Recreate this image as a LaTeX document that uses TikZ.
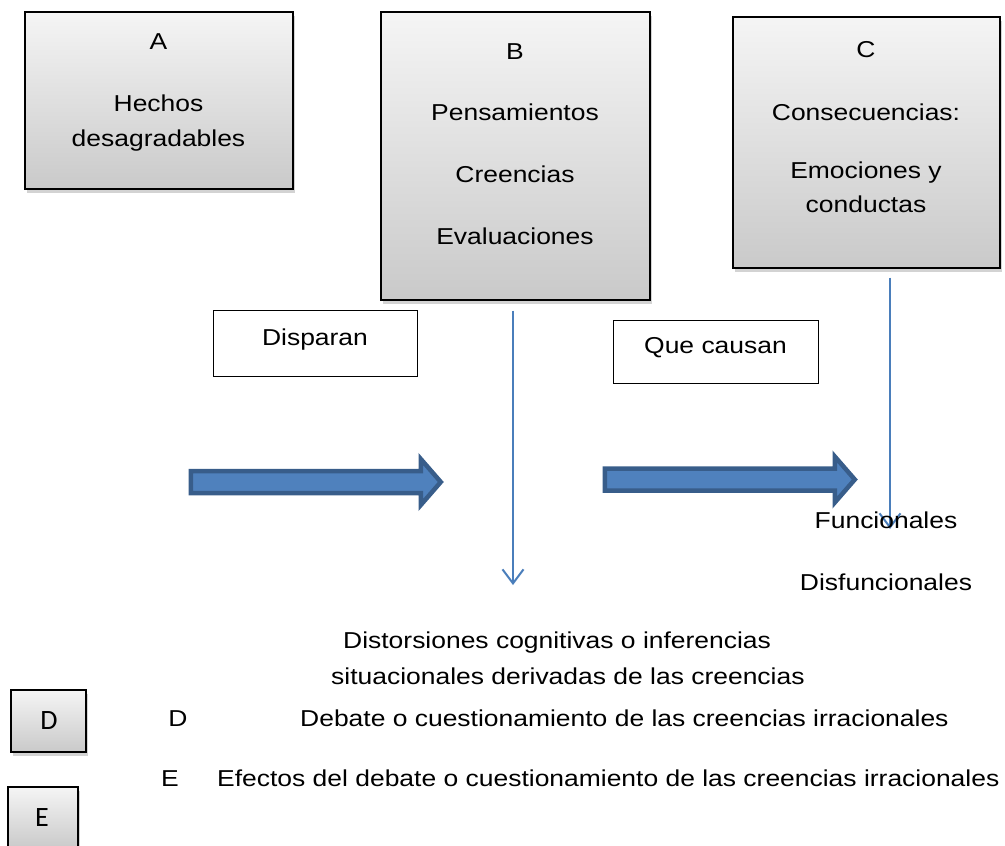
\documentclass[tikz,border=0pt]{standalone}
\usepackage{fontspec}
\setmainfont{Liberation Sans}[FakeStretch=1.15]
\newfontfamily\boxfont{Carlito}
\usetikzlibrary{shadows,shapes.arrows,arrows.meta}

\definecolor{arrowfill}{HTML}{4F81BD}
\definecolor{arrowline}{HTML}{385D8A}
\definecolor{linkblue}{HTML}{4A7EBB}

\tikzset{
	greybox/.style={draw=black, line width=1.3pt, inner sep=0pt, top color=gray!8, bottom color=gray!42,
		drop shadow={shadow xshift=2pt, shadow yshift=-4pt, opacity=0.35}},
	whitebox/.style={draw=black, line width=0.6pt, fill=white, inner sep=0pt},
	txt/.style={font=\fontsize{23}{28}\selectfont, inner sep=0pt, anchor=base},
	boxtxt/.style={font=\boxfont\fontsize{28}{32}\selectfont, inner sep=0pt, anchor=base},
	blockarrow/.style={single arrow, draw=arrowline, fill=arrowfill, line width=4.5pt, inner xsep=0pt, inner ysep=8.75pt,
		single arrow head extend=12pt, single arrow tip angle=98, minimum height=250pt},
	link/.style={draw=linkblue, line width=2pt, -{Straight Barb[length=14pt, width=21pt]}}
}

\begin{document}
\begin{tikzpicture}[x=1pt, y=-1pt]
	\useasboundingbox (0,0) rectangle (1005,846);

	\node[greybox, minimum width=268pt, minimum height=177pt] (A) at (159,100.5) {};
	\node[greybox, minimum width=269pt, minimum height=288pt] (B) at (515.5,156) {};
	\node[greybox, minimum width=267pt, minimum height=251pt] (C) at (866.5,142.5) {};
	\node[greybox, minimum width=75pt, minimum height=62pt] (D) at (48.5,721) {};
	\node[greybox, minimum width=70pt, minimum height=62pt] (E) at (43,818) {};

	\foreach \t/\y [count=\i] in {A/49, Hechos/111, desagradables/146}
		\node[txt] (a\i) at (158.5,\y) {\t};
	\foreach \t/\y [count=\i] in {B/59, Pensamientos/120, Creencias/182, Evaluaciones/244}
		\node[txt] (b\i) at (515,\y) {\t};
	\foreach \t/\y [count=\i] in {C/57, Consecuencias:/120, Emociones y/178, conductas/212}
		\node[txt] (c\i) at (866,\y) {\t};
	\node[boxtxt] (dlet) at (49,729) {D};
	\node[boxtxt] (elet) at (42,826) {E};

	\node[whitebox, minimum width=204pt, minimum height=66pt] (disp) at (315,343) {};
	\node[txt] (disptxt) at (315,345) {Disparan};
	\node[whitebox, minimum width=205pt, minimum height=63pt] (causa) at (715.5,351.5) {};
	\node[txt] (causatxt) at (715.5,353) {Que causan};

	\node[blockarrow] (arrAB) at (311,482) {};
	\node[blockarrow] (arrBC) at (725,479.5) {};

	\coordinate (bTip) at (513,585);
	\coordinate (cTip) at (890,529);
	\draw[link, shorten <=10pt] (B.south -| bTip) -- (bTip);
	\draw[link, shorten <=9pt] (C.south -| cTip) -- (cTip);

	\node[txt] (func) at (886,528) {Funcionales};
	\node[txt] (disf) at (886,590) {Disfuncionales};
	\node[txt, anchor=base west] (dist1) at (343,648) {Distorsiones cognitivas o inferencias};
	\node[txt, anchor=base west] (dist2) at (331,684) {situacionales derivadas de las creencias};

	\node[txt] (dlab) at (178,726) {D};
	\node[txt, anchor=base west] (dtxt) at (300,726) {Debate o cuestionamiento de las creencias irracionales};
	\node[txt] (elab) at (170,786) {E};
	\node[txt, anchor=base west] (etxt) at (217,786) {Efectos del debate o cuestionamiento de las creencias irracionales};
\end{tikzpicture}
\end{document}
